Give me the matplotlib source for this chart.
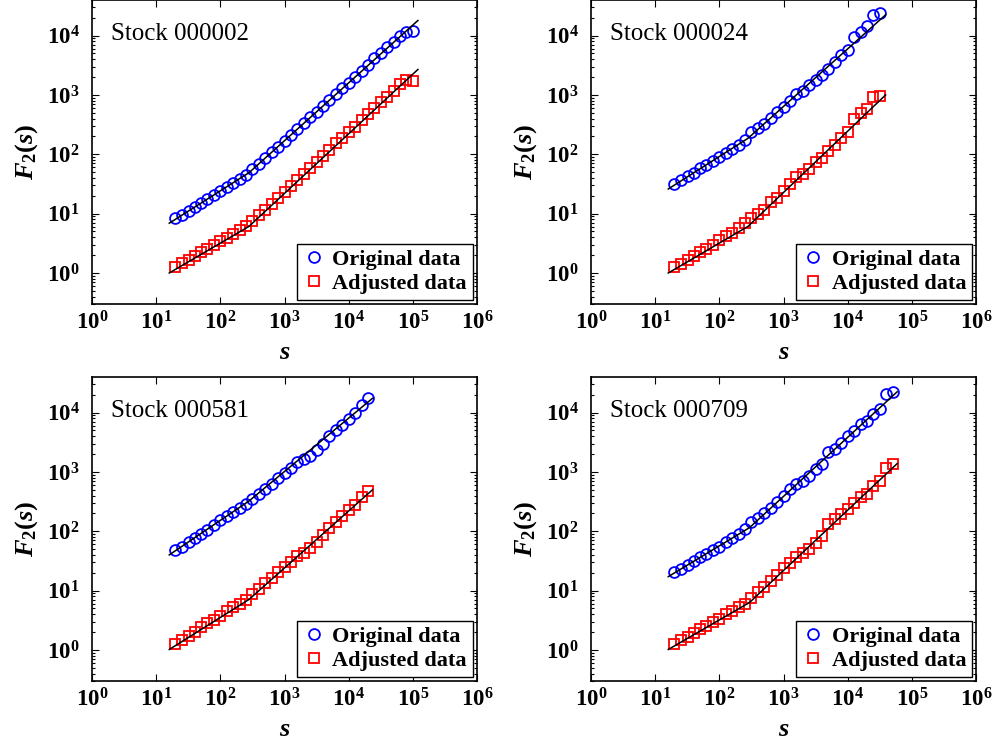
import matplotlib
matplotlib.use('Agg')
import matplotlib.pyplot as plt
from matplotlib.lines import Line2D

plt.rcParams['font.family'] = ['Liberation Serif', 'DejaVu Serif']
plt.rcParams['mathtext.fontset'] = 'custom'
plt.rcParams['mathtext.rm'] = 'Liberation Serif:bold'
plt.rcParams['mathtext.it'] = 'Liberation Serif:italic:bold'
plt.rcParams['mathtext.bf'] = 'Liberation Serif:bold'

# ---- data ----
s_scales = [20, 25, 32, 40, 50, 63, 79, 100, 126, 158, 200, 251, 316, 398, 501,
            631, 794, 1000, 1259, 1585, 1995, 2512, 3162, 3981, 5012, 6310, 7943,
            10000, 12589, 15849, 19953, 25119, 31623, 39811, 50119, 63096, 79433,
            100000]

stocks = ['Stock 000002', 'Stock 000024', 'Stock 000581', 'Stock 000709']

orig_000002 = [8.3, 9.5, 11.1, 12.9, 15.1, 17.7, 20.7, 24.2, 28.3, 33.1,
               38.7, 45.3, 56, 69, 86, 108, 135, 169, 212, 266,
               333, 418, 524, 656, 822, 1030, 1290, 1620, 2030, 2540,
               3180, 4170, 5000, 6500, 7900, 9900, 11700, 11800]
adj_000002 = [1.28, 1.46, 1.68, 1.94, 2.24, 2.58, 2.98, 3.43, 3.96, 4.57,
              5.27, 6.08, 7.5, 9.5, 11.7, 14.7, 18.4, 23.3, 29.4, 37.1,
              46.8, 59, 74.5, 94, 118, 152, 187, 237, 292, 376,
              485, 600, 755, 930, 1170, 1510, 1780, 1750]

orig_000024 = [32, 37, 43, 49, 58, 66, 78, 89, 105, 123,
               145, 174, 235, 275, 330, 415, 515, 630, 795, 1050,
               1150, 1450, 1780, 2140, 2690, 3630, 4680, 5750, 9500, 11500,
               14400, 22400, 24000]
adj_000024 = [1.26, 1.41, 1.66, 1.91, 2.24, 2.57, 2.95, 3.55, 4.17, 4.79,
              5.75, 6.92, 8.51, 10.0, 11.7, 15.5, 18.6, 24.0, 31.6, 41.7,
              45.7, 56.2, 74.1, 87.1, 112, 145, 186, 240, 389, 490,
              589, 912, 977]

orig_000581 = [48, 55, 65, 76, 89, 107, 129, 155, 182, 214,
               251, 288, 347, 427, 525, 631, 776, 955, 1150, 1480,
               1660, 1860, 2340, 2950, 3980, 5010, 6170, 7760, 9770, 13500,
               17800]
adj_000581 = [1.26, 1.48, 1.74, 2.04, 2.40, 2.82, 3.24, 3.80, 4.47, 5.25,
              6.03, 7.08, 8.7, 10.5, 13.2, 16.6, 20.4, 25.1, 30.2, 38.0,
              43.7, 52.5, 66, 85, 112, 141, 182, 229, 282, 372,
              479]

orig_000709 = [20.4, 23.4, 26.9, 31.6, 36.3, 41.7, 49, 55, 66, 78,
               91, 110, 141, 166, 200, 245, 309, 389, 513, 617,
               708, 851, 1100, 1350, 2140, 2450, 3090, 4070, 4900, 6310,
               7240, 9330, 11500, 20400, 22400]
adj_000709 = [1.26, 1.45, 1.66, 1.95, 2.24, 2.57, 2.95, 3.39, 3.98, 4.57,
              5.25, 6.03, 7.59, 9.33, 11.7, 14.8, 18.6, 24.5, 29.5, 36.3,
              42.7, 50.1, 64.6, 83.2, 132, 158, 195, 234, 302, 372,
              417, 575, 708, 1175, 1350]

original = [orig_000002, orig_000024, orig_000581, orig_000709]
adjusted = [adj_000002, adj_000024, adj_000581, adj_000709]

# piecewise power-law fits: scale breakpoints and fitted F2 at them
fit_s = [[16, 280, 120000], [16, 280, 39000], [16, 280, 23500], [16, 295, 59000]]
fit_orig = [[6.9, 49, 18000], [26, 186, 22400], [40, 324, 17400], [17.2, 115, 22400]]
fit_adj = [[1.0, 6.1, 2690], [1.0, 6.1, 1000], [1.02, 7.1, 500], [1.02, 6.3, 1380]]

# ---- layout ----
fig = plt.figure(figsize=(9.93, 7.40), dpi=100)
W, H = 993, 740
lefts = [92, 591, 92, 591]
tops = [0, 0, 377, 377]
aw, ah = 385, 304

major = [10 ** k for k in range(0, 7)]
ymajor = [10 ** k for k in range(0, 5)]

MS_C, MS_S = 7.8, 6.6

for i in range(4):
    ax = fig.add_axes([lefts[i] / W, 1 - (tops[i] + ah) / H, aw / W, ah / H])
    n = len(original[i])
    s = s_scales[:n]
    ax.plot(fit_s[i], fit_orig[i], color='black', lw=1.1, zorder=3)
    ax.plot(fit_s[i], fit_adj[i], color='black', lw=1.1, zorder=3)
    ax.plot(s, original[i], linestyle='none', marker='o', ms=MS_C, mfc='none',
            mec=(0, 0, 1), mew=1.3, zorder=2)
    ax.plot(s, adjusted[i], linestyle='none', marker='s', ms=MS_S, mfc='none',
            mec=(1, 0, 0), mew=1.3, zorder=2)
    ax.set_xscale('log')
    ax.set_yscale('log')
    ax.set_xlim(1, 1e6)
    ax.set_ylim(0.3, 10 ** 4.6)
    ax.set_xticks(major)
    ax.set_xticklabels([r'$\mathbf{10^{%d}}$' % k for k in range(0, 7)])
    ax.set_yticks(ymajor)
    ax.set_yticklabels([r'$\mathbf{10^{%d}}$' % k for k in range(0, 5)])
    ax.tick_params(which='both', direction='in', top=True, right=True, width=0.8)
    ax.tick_params(which='major', length=5)
    ax.tick_params(which='minor', length=2.5)
    ax.tick_params(axis='x', which='major', labelsize=16.5, pad=5)
    ax.tick_params(axis='y', which='major', labelsize=16.5, pad=9)
    for sp in ax.spines.values():
        sp.set_linewidth(1.2)
    ax.set_xlabel(r'$s$', fontsize=19, labelpad=6)
    ax.set_ylabel(r'$F_2(s)$', fontsize=19, labelpad=5)
    ax.text(0.049, 0.868, stocks[i], transform=ax.transAxes, fontsize=18,
            va='baseline', ha='left')
    handles = [Line2D([], [], linestyle='none', marker='o', ms=MS_C, mfc='none',
                      mec=(0, 0, 1), mew=1.3),
               Line2D([], [], linestyle='none', marker='s', ms=MS_S, mfc='none',
                      mec=(1, 0, 0), mew=1.3)]
    leg = ax.legend(handles, ['Original data', 'Adjusted data'], loc='lower right',
                    prop={'weight': 'bold', 'size': 16}, frameon=True, fancybox=False,
                    edgecolor='black', framealpha=1, borderaxespad=0.2,
                    handlelength=1.0, handletextpad=0.35, borderpad=0.25,
                    labelspacing=0.15)
    leg.get_frame().set_linewidth(1.0)

fig.savefig('out.png', dpi=100)
